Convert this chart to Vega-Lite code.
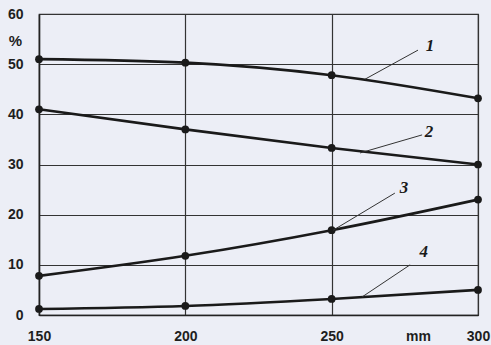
{
  "$schema": "https://vega.github.io/schema/vega-lite/v6.json",
  "width": 439,
  "height": 301,
  "autosize": "none",
  "padding": {"left": 39, "top": 14, "right": 13, "bottom": 30},
  "background": "#eceef6",
  "config": {
    "view": {"stroke": "#333333", "strokeWidth": 1.2, "fill": "#eceef6"},
    "axis": {"gridColor": "#333333", "gridWidth": 1.2, "gridOpacity": 1, "domainColor": "#222222", "domainWidth": 1.5, "labelFont": "Liberation Sans", "labelFontWeight": "bold", "labelColor": "#1e1e1e", "labelFontSize": 14, "ticks": false, "titleFont": "Liberation Sans", "titleFontWeight": "bold", "titleColor": "#1e1e1e", "titleFontSize": 14}
  },
  "datasets": {
    "series": [
      {"x": 150, "y": 51.0, "s": "1"}, {"x": 200, "y": 50.3, "s": "1"}, {"x": 250, "y": 47.8, "s": "1"}, {"x": 300, "y": 43.2, "s": "1"},
      {"x": 150, "y": 41.0, "s": "2"}, {"x": 200, "y": 37.0, "s": "2"}, {"x": 250, "y": 33.3, "s": "2"}, {"x": 300, "y": 30.0, "s": "2"},
      {"x": 150, "y": 7.8, "s": "3"}, {"x": 200, "y": 11.8, "s": "3"}, {"x": 250, "y": 16.9, "s": "3"}, {"x": 300, "y": 23.0, "s": "3"},
      {"x": 150, "y": 1.2, "s": "4"}, {"x": 200, "y": 1.8, "s": "4"}, {"x": 250, "y": 3.2, "s": "4"}, {"x": 300, "y": 5.0, "s": "4"}
    ],
    "leaders": [
      {"x": 279.5, "y": 52.8, "x2": 261.4, "y2": 47.0},
      {"x": 280.9, "y": 35.9, "x2": 259.7, "y2": 32.3},
      {"x": 271.6, "y": 24.3, "x2": 250.5, "y2": 16.9},
      {"x": 276.8, "y": 10.0, "x2": 260.4, "y2": 3.6}
    ],
    "labels": [
      {"x": 283.6, "y": 53.6, "t": "1"},
      {"x": 283.3, "y": 36.5, "t": "2"},
      {"x": 274.7, "y": 25.3, "t": "3"},
      {"x": 281.5, "y": 12.6, "t": "4"}
    ]
  },
  "layer": [
    {
      "data": {"name": "series"},
      "mark": {"type": "line", "color": "#1a1a1a", "strokeWidth": 2.6, "interpolate": "monotone", "point": {"filled": true, "color": "#1a1a1a", "size": 60}},
      "encoding": {
        "x": {"field": "x", "type": "quantitative", "scale": {"domain": [150, 300], "nice": false, "zero": false},
              "axis": {"values": [150, 200, 250, 300], "labelPadding": 14, "title": "mm", "titleX": 379, "titleY": 21, "titleBaseline": "middle", "labelFlush": false}},
        "y": {"field": "y", "type": "quantitative", "scale": {"domain": [0, 60], "nice": false},
              "axis": {"values": [0, 10, 20, 30, 40, 50, 60], "labelPadding": 16, "title": "%", "titleAngle": 0, "titleX": -24, "titleY": 26, "titleBaseline": "middle", "titleAlign": "center", "titleFontSize": 15}},
        "detail": {"field": "s"}
      }
    },
    {
      "data": {"name": "leaders"},
      "mark": {"type": "rule", "color": "#333333", "strokeWidth": 1},
      "encoding": {
        "x": {"field": "x", "type": "quantitative"},
        "y": {"field": "y", "type": "quantitative"},
        "x2": {"field": "x2"},
        "y2": {"field": "y2"}
      }
    },
    {
      "data": {"name": "labels"},
      "mark": {"type": "text", "font": "Liberation Serif", "fontWeight": "bold", "fontStyle": "italic", "fontSize": 17, "color": "#1a1a1a", "align": "center", "baseline": "middle"},
      "encoding": {
        "x": {"field": "x", "type": "quantitative"},
        "y": {"field": "y", "type": "quantitative"},
        "text": {"field": "t"}
      }
    }
  ]
}
